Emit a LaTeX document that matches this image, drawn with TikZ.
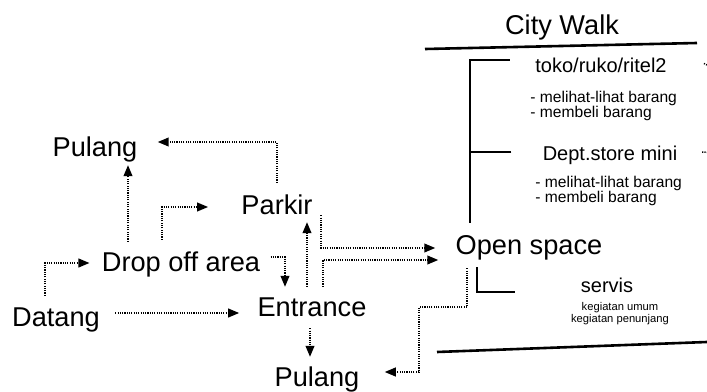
\documentclass[tikz,border=0pt]{standalone}
\usepackage{fontspec}
\setmainfont{Liberation Sans}
\usetikzlibrary{arrows.meta,calc}
\tikzset{
  place/.style={inner sep=0pt, text height=9.8pt, text depth=0pt,
    font=\fontsize{13.6}{16}\selectfont},
  zone/.style={inner sep=0pt, text height=7.2pt, text depth=0pt,
    font=\fontsize{10}{12}\selectfont},
  note/.style={inner sep=0pt, align=left, anchor=west,
    font=\fontsize{7.8}{7.6}\selectfont},
  smallnote/.style={inner sep=0pt, align=center,
    font=\fontsize{5.6}{6}\selectfont},
  flowline/.style={line width=0.75pt, dash pattern=on 0.55pt off 0.6pt},
  flow/.style={flowline, -{Triangle[length=5.5pt,width=4.4pt]}},
  rule/.style={line width=1pt},
  heavyrule/.style={line width=1.3pt},
}

\begin{document}
\begin{tikzpicture}[x=0.5pt, y=-0.5pt]
  % pixel grid of the scan, y runs down
  \useasboundingbox (0,0) rectangle (707,391);

  % places
  \node[place] (datang)  at ( 56,317) {Datang};
  \node[place] (drop)    at (181,262) {Drop off area};
  \node[place] (entr)    at (312,307) {Entrance};
  \node[place] (parkir)  at (277,205) {Parkir};
  \node[place] (pulangA) at ( 95,147) {Pulang};
  \node[place] (pulangB) at (317,377) {Pulang};
  \node[place] (open)    at (529,245) {Open space};

  % city walk block
  \node[place] (city) at (562,25) {City Walk};
  \node[zone] (toko)   at (601,65)  {toko/ruko/ritel2};
  \node[zone] (dept)   at (610,153) {Dept.store mini};
  \node[zone] (servis) at (607,285) {servis};
  \node[note] (tokoket) at (530,106) {- melihat-lihat barang\\- membeli barang};
  \node[note] (deptket) at (535,191) {- melihat-lihat barang\\- membeli barang};
  \node[smallnote] (servisket) at (620,314) {kegiatan umum\\kegiatan penunjang};

  \coordinate (tokoOut)  at (703,63);
  \coordinate (deptOut)  at (701,152);
  \coordinate (servisIn) at (707,285);

  \draw[heavyrule] (425,49) -- (697,43);
  \draw[heavyrule] (437,352) -- (707,342);

  \draw[rule] ([shift={(-59,-12)}]open.north) |- ([shift={(-25,-5)}]toko.west);
  \draw[rule] ([shift={(-31,-1)}]dept.west) -- ([shift={(-73,-1)}]dept.west);
  \draw[rule] ([shift={(-52,12)}]open.south) |- ([shift={(-65,7)}]servis.west);

  \draw[flowline] ([xshift=20]toko.east) -- (tokoOut);
  \draw[flowline] ([xshift=22]dept.east) -- (deptOut);
  \draw[flow] (servisIn) -- ([xshift=67]servis.east);

  % circulation
  \draw[flow] ([shift={(-11,-11)}]datang.north) |- ([shift={(-12,1)}]drop.west);
  \draw[flow] ([shift={(15,-4)}]datang.east) -- ([shift={(-18,6)}]entr.west);
  \draw[flow] ([shift={(-53,-10)}]drop.north) -- ([shift={(33,8)}]pulangA.south);
  \draw[flow] ([shift={(-19,-12)}]drop.north) |- ([shift={(-33,2)}]parkir.west);
  \draw[flow] ([shift={(10,-5)}]drop.east) -| ([shift={(-27,-10)}]entr.north);
  \draw[flow] ([shift={(-5,-10)}]entr.north) -- ([shift={(30,7)}]parkir.south);
  \draw[flow] ([shift={(0,-12)}]parkir.north) |- ([shift={(20,-5)}]pulangA.east);
  \draw[flow] ([shift={(8,0)}]parkir.south east) |- ([shift={(-20,3)}]open.west);
  \draw[flow] ([shift={(11,-10)}]entr.north) |- ([shift={(-17,15)}]open.west);
  \draw[flow] ([shift={(-2,11)}]entr.south) -- ([shift={(-7,-10)}]pulangB.north);
  \draw[flow] ([shift={(-62,13)}]open.south) |- ++(-48,39)
    |- ([shift={(25,-5)}]pulangB.east);

\end{tikzpicture}
\end{document}
